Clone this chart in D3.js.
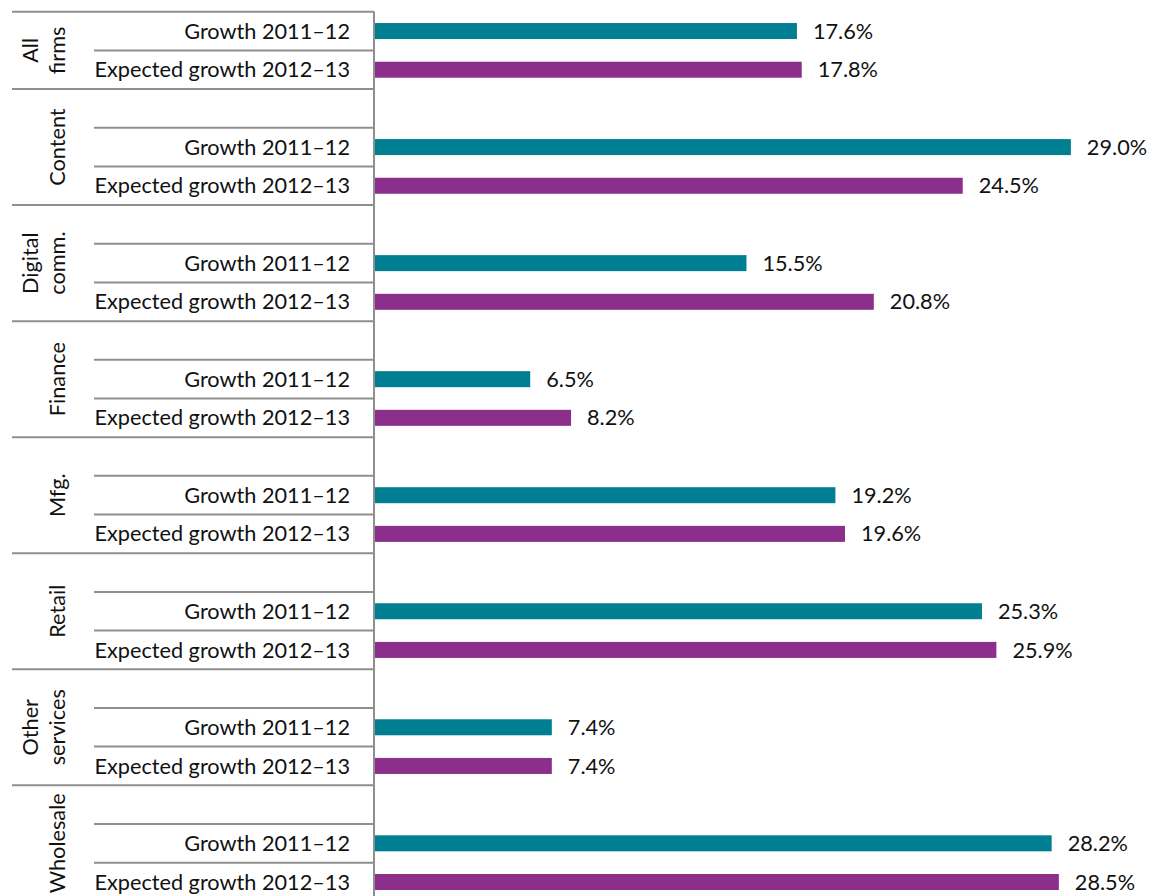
<!DOCTYPE html>
<html>
<head>
<meta charset="utf-8">
<script src="https://cdn.jsdelivr.net/npm/d3@7/dist/d3.min.js"></script>
<style>
  html, body { margin: 0; padding: 0; background: #fff; }
  svg { display: block; font-family: Lato, "Open Sans", sans-serif; }
</style>
</head>
<body>
<svg id="chart" width="1149" height="896"></svg>
<script>
// Industry groups (outer category level) and how each label wraps
const groups = ["All firms", "Content", "Digital comm.", "Finance", "Mfg.", "Retail", "Other services", "Wholesale"];
const groupLines = [["All", "firms"], ["Content"], ["Digital", "comm."], ["Finance"], ["Mfg."], ["Retail"], ["Other", "services"], ["Wholesale"]];

// Inner category level (one bar each)
const series = ["Growth 2011–12", "Expected growth 2012–13"];
const seriesColors = ["#007F92", "#8B2E8C"];

// Percent growth values, one per group
const growth = [17.6, 29.0, 15.5, 6.5, 19.2, 25.3, 7.4, 28.2];
const expected = [17.8, 24.5, 20.8, 8.2, 19.6, 25.9, 7.4, 28.5];

const seriesValues = [growth, expected];

// Build the row list: every group except the first has an empty leading row
const slots = [];
groups.forEach((g, gi) => {
  if (gi > 0) slots.push({ key: g + "|blank", group: gi, s: -1 });
  series.forEach((s, si) => slots.push({ key: g + "|" + s, group: gi, s: si }));
});

const svg = d3.select("#chart");
const axisX = 374;
const plotTop = 11.7, rowStep = 38.68;
const plotBottom = plotTop + rowStep * slots.length;
const barPad = 1 - 16 / rowStep;

const y = d3.scaleBand()
  .domain(slots.map(d => d.key))
  .range([plotTop, plotBottom])
  .paddingInner(barPad)
  .paddingOuter(barPad / 2);

const x = d3.scaleLinear().domain([0, 30]).range([axisX, axisX + 30 * 24.03]);

const slotTop = d => y(d.key) - y.step() * barPad / 2;
const gridColor = "#8f8f8f";
const textColor = "#111";
const fontSize = 21.7;

// Bars and value labels
const bars = slots.filter(d => d.s >= 0).map(d => ({ ...d, value: seriesValues[d.s][d.group] }));

svg.append("g").selectAll("rect").data(bars).join("rect")
  .attr("x", x(0))
  .attr("y", d => y(d.key))
  .attr("width", d => x(d.value) - x(0))
  .attr("height", y.bandwidth())
  .attr("fill", d => seriesColors[d.s]);

svg.append("g").selectAll("text").data(bars).join("text")
  .attr("x", d => x(d.value) + 16)
  .attr("y", d => y(d.key) + y.bandwidth() / 2)
  .attr("dy", "0.35em")
  .attr("font-size", fontSize)
  .attr("fill", textColor)
  .text(d => d.value.toFixed(1) + "%");

// Multi-level category axis: row separators and group separators
const lines = svg.append("g").attr("stroke", gridColor).attr("stroke-width", 2);

// group borders (span both label columns)
const groupStarts = [];
slots.forEach((d, i) => {
  if (i === 0 || slots[i - 1].group !== d.group) groupStarts.push(slotTop(d));
});
groupStarts.push(plotBottom);
lines.selectAll("line.group").data(groupStarts).join("line")
  .attr("class", "group")
  .attr("x1", 12).attr("x2", axisX)
  .attr("y1", d => d).attr("y2", d => d);

// row borders inside a group (inner column only)
const rowBorders = slots.filter((d, i) => i > 0 && slots[i - 1].group === d.group).map(slotTop);
lines.selectAll("line.row").data(rowBorders).join("line")
  .attr("class", "row")
  .attr("x1", 94).attr("x2", axisX)
  .attr("y1", d => d).attr("y2", d => d);

// vertical axis line
svg.append("line")
  .attr("x1", axisX).attr("x2", axisX)
  .attr("y1", plotTop).attr("y2", plotBottom)
  .attr("stroke", gridColor).attr("stroke-width", 2);

// Inner category labels
svg.append("g").selectAll("text").data(bars).join("text")
  .attr("x", 350)
  .attr("y", d => y(d.key) + y.bandwidth() / 2)
  .attr("dy", "0.35em")
  .attr("text-anchor", "end")
  .attr("font-size", fontSize)
  .attr("fill", textColor)
  .text(d => series[d.s]);

// Outer (group) labels, rotated and centred on each group
const groupCenters = groups.map((g, gi) => (groupStarts[gi] + groupStarts[gi + 1]) / 2);
const lineGap = 27, lastLineX = 57.5;
const glabels = svg.append("g").selectAll("g").data(groups).join("g")
  .attr("transform", (d, gi) => `translate(0,${groupCenters[gi]})`);
glabels.each(function (d, gi) {
  const ls = groupLines[gi];
  d3.select(this).selectAll("text").data(ls).join("text")
    .attr("transform", (t, li) => `translate(${lastLineX - (ls.length - 1 - li) * lineGap},0) rotate(-90)`)
    .attr("text-anchor", "middle")
    .attr("dy", "0.35em")
    .attr("font-size", fontSize)
    .attr("fill", textColor)
    .text(t => t);
});
</script>
</body>
</html>
